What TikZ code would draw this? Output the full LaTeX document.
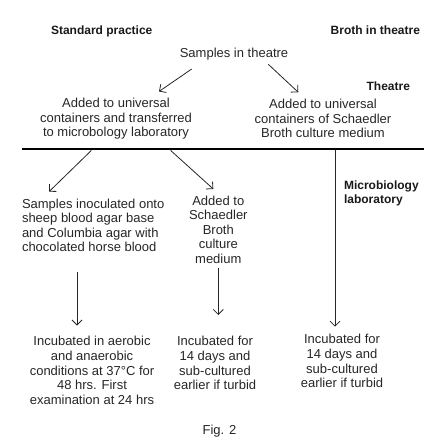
\documentclass[tikz,border=0pt]{standalone}
\usepackage{fontspec}
\setmainfont{Liberation Sans}
\usepackage{tikz}
\usetikzlibrary{arrows.meta, positioning}
\tikzset{%
   % step text: Arial-like at the size of the scan
   stage/.style={
      inner sep=0pt,
      outer sep=0pt,
      align=center,
      text=black!85,
      font=\fontsize{13}{14.6}\selectfont
   },
   heading/.style={
      inner sep=0pt,
      outer sep=0pt,
      align=left,
      text=black!90,
      font=\fontsize{12}{14}\selectfont\bfseries
   },
   flow/.style={
      -{Straight Barb[length=5pt, width=10pt]},
      line width=.8pt,
      draw=black!85
   },
   divider/.style={
      line width=2.4pt
   },
}

\begin{document}
\begin{tikzpicture}[x=1pt, y=-1pt]
   \useasboundingbox (0,0) rectangle (443,443);
   % column and zone headings
   \node[heading, anchor=base west] (std) at (51,35) {Standard practice};
   \node[heading, anchor=base east] (broth) at (420,35) {Broth in theatre};
   \node[heading, anchor=base east] (theatre) at (410,91) {Theatre};
   \node[heading, anchor=north west] (lab) at (344,181) {Microbiology\\laboratory};

   % theatre
   \node[stage, anchor=base] (samples) at (234,57.5) {Samples in theatre};
   \node[stage, anchor=north] (universal) at (116,98)
      {Added to universal\\containers and transferred\\to microbology laboratory};
   \node[stage, anchor=north] (schaedler) at (323,99)
      {Added to universal\\containers of Schaedler\\Broth culture medium};
   \coordinate (s-l) at (191.7,69);
   \coordinate (s-r) at (268.3,64.3);
   \coordinate (u-in) at (159,91.5);
   \coordinate (sc-in) at (298.3,92.3);
   \draw[flow] (s-l) -- (u-in);
   \draw[flow] (s-r) -- (sc-in);

   % laboratory
   \coordinate (rule-w) at (22,149.3);
   \coordinate (rule-e) at (424,149.3);
   \draw[divider] (rule-w) -- (rule-e);
   \node[stage, align=left, anchor=north west] (agar) at (22,198.6)
      {Samples inoculated onto\\sheep blood agar base\\and Columbia agar with\\chocolated horse blood};
   \node[stage, anchor=north] (added) at (218.3,195.6)
      {Added to\\Schaedler\\Broth\\culture\\medium};
   \coordinate (r-l) at (91.3,150.5);
   \coordinate (r-m) at (170.7,150.5);
   \coordinate (r-v) at (335,150.3);
   \coordinate (agar-in) at (49,191.7);
   \coordinate (added-in) at (213.3,189);
   \draw[flow] (r-l) -- (agar-in);
   \draw[flow] (r-m) -- (added-in);

   \node[stage, anchor=north] (aerobic) at (92,336.5)
      {Incubated in aerobic\\and anaerobic\\conditions at 37\textdegree C for\\48 hrs. First\\examination at 24 hrs};
   \node[stage, anchor=north] (days) at (215,336.5)
      {Incubated for\\14 days and\\sub-cultured\\earlier if turbid};
   \node[stage, anchor=north] (days-b) at (342,334.5)
      {Incubated for\\14 days and\\sub-cultured\\earlier if turbid};
   \coordinate (agar-out) at (77,271.7);
   \coordinate (added-out) at (218.3,268.3);
   \coordinate (aerobic-in) at (77,325.5);
   \coordinate (days-in) at (218.3,315);
   \coordinate (days-b-in) at (335,326.7);
   \draw[flow] (agar-out) -- (aerobic-in);
   \draw[flow] (added-out) -- (days-in);
   \draw[flow] (r-v) -- (days-b-in);

   \node[stage, anchor=base] (fig) at (219.5,434) {Fig. 2};
\end{tikzpicture}
\end{document}
